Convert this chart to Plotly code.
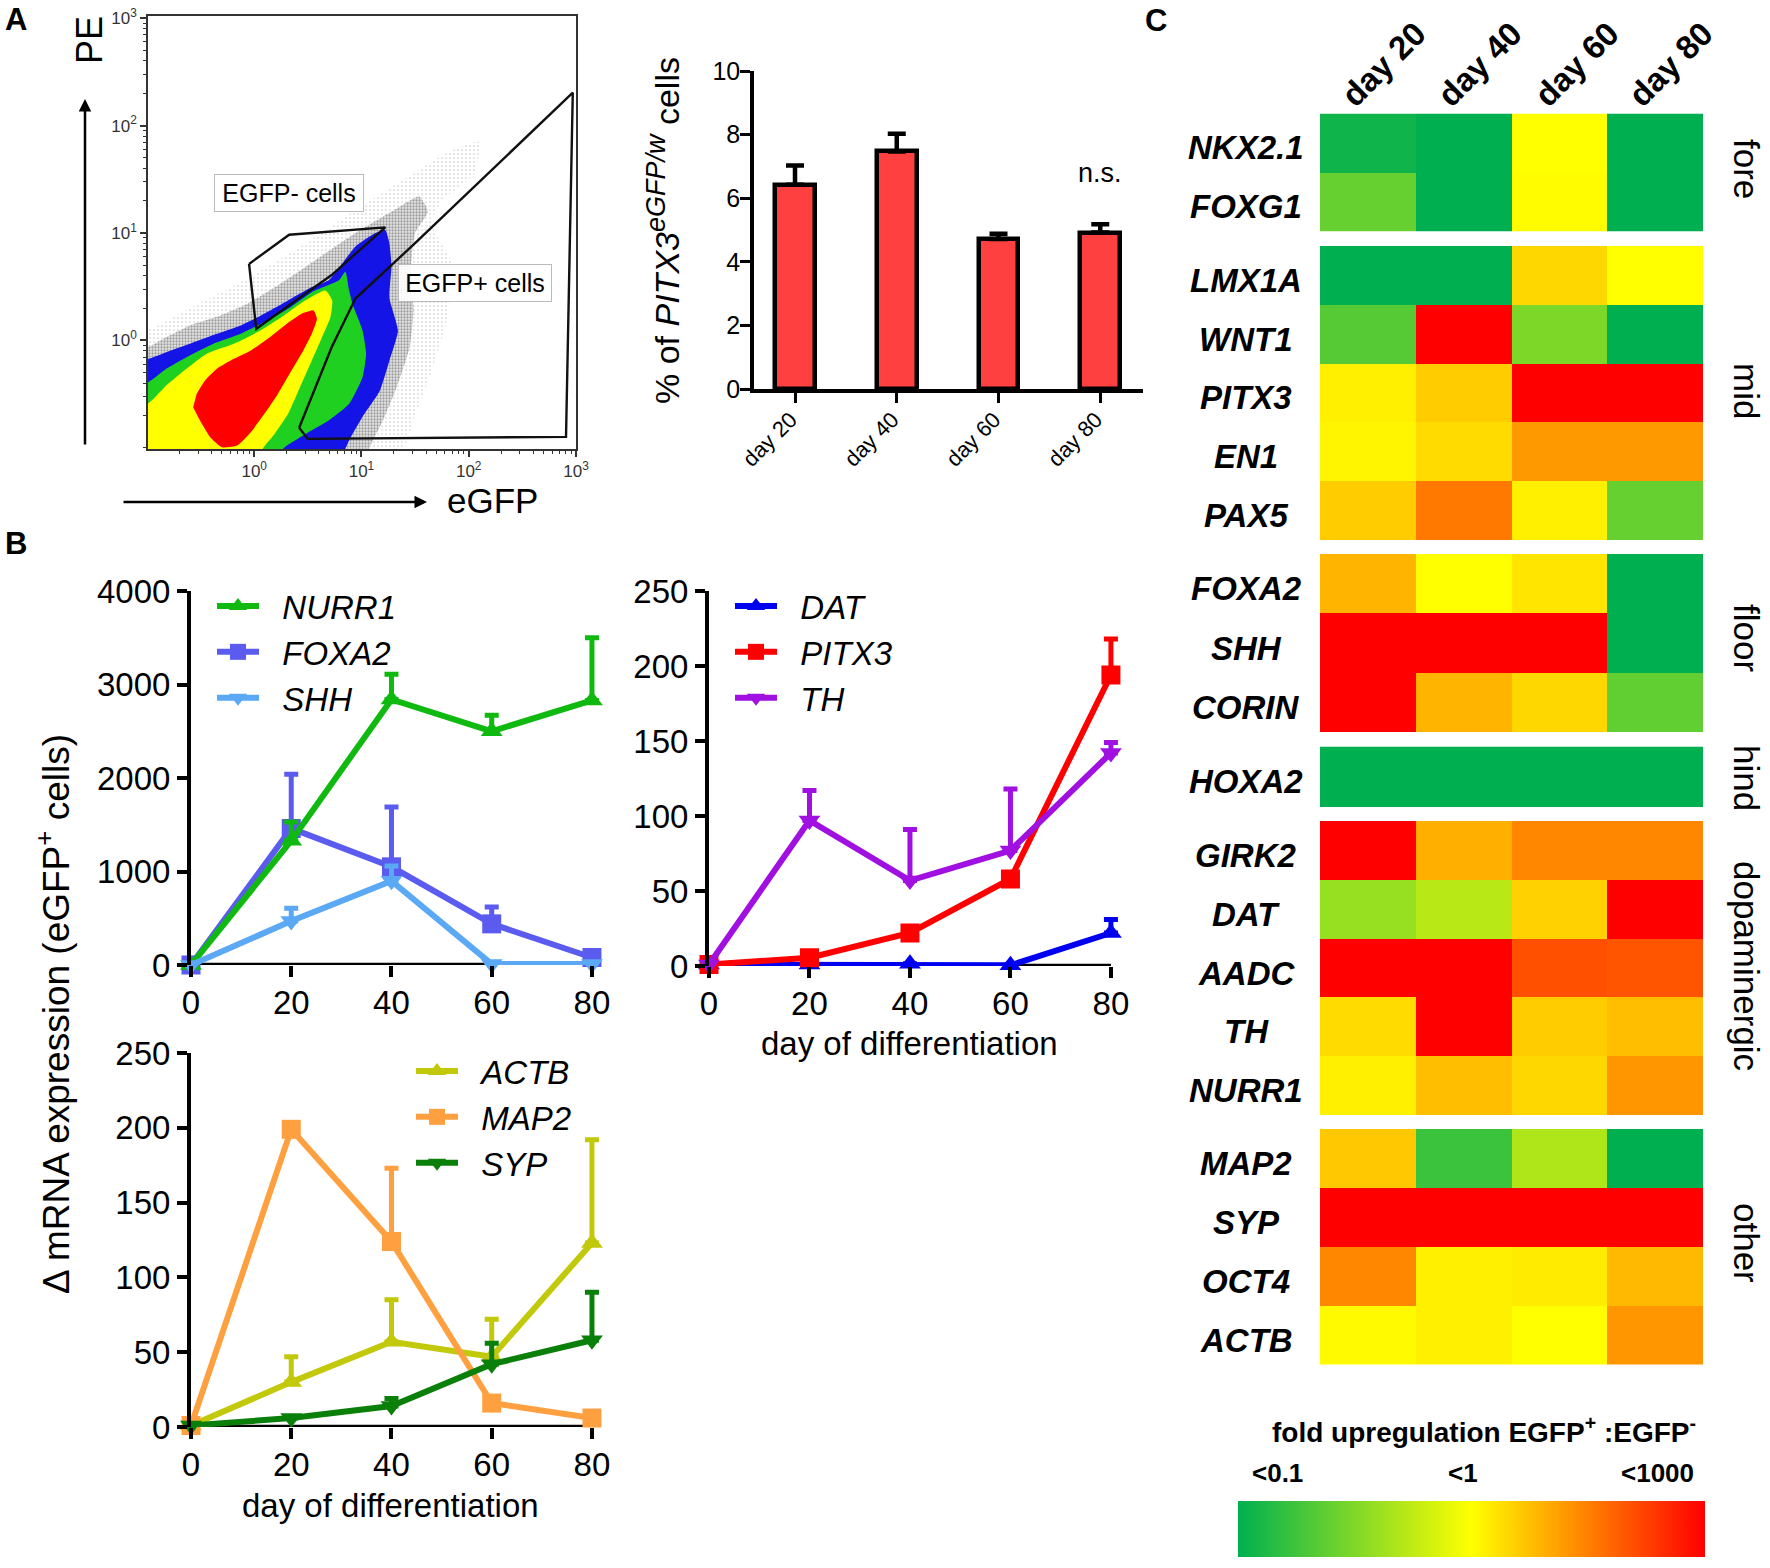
import plotly.graph_objects as go

W, H = 1770, 1568
FONT = "Liberation Sans"

# ---------- Panel A: flow cytometry density regions, read as (log10 eGFP, log10 PE)
FLOW_PALE = [(-1.3,.10),(-.99,.10),(-.6,.30),(-.2,.50),(.2,.73),(.6,.98),(1,1.25),(1.4,1.5),(1.8,1.75),(2.1,1.85),(2.05,1.55),(1.75,1.3),(1.65,1.1),(1.85,.7),(1.8,.2),(1.65,-.3),(1.5,-.7),(1.4,-1.01),(1.3,-1.3),(-1.3,-1.3)]
FLOW_GREY = [(-1.3,-.06),(-.99,-.06),(-.82,.03),(-.6,.14),(-.316,.233),(-.063,.342),(.2,.50),(.574,.75),(.944,1.0),(1.315,1.22),(1.537,1.34),(1.62,1.2),(1.5,1.0),(1.46,.66),(1.485,.28),(1.45,-.06),(1.33,-.43),(1.2,-.745),(1.07,-1.01),(1.0,-1.3),(-1.3,-1.3)]
FLOW_BLUE = [(-1.3,-.171),(-.99,-.171),(-.82,-.109),(-.6,-.031),(-.348,.062),(-.126,.14),(.063,.233),(.316,.373),(.537,.497),(.695,.56),(.944,.875),(1.13,1.0),(1.22,1.03),(1.26,.906),(1.28,.69),(1.26,.40),(1.34,.09),(1.26,-.19),(1.17,-.47),(1.01,-.71),(.885,-.93),(.85,-1.01),(.8,-1.3),(-1.3,-1.3)]
FLOW_GREEN = [(-1.3,-.388),(-.99,-.388),(-.82,-.264),(-.6,-.14),(-.38,-.031),(-.126,.062),(.063,.155),(.316,.295),(.537,.45),(.79,.56),(.85,.64),(.885,.466),(.916,.342),(1.01,.093),(1.043,-.124),(1.01,-.342),(.885,-.59),(.695,-.745),(.505,-.854),(.379,-.932),(.269,-1.01),(.2,-1.3),(-1.3,-1.3)]
FLOW_YELLOW = [(-1.3,-.59),(-.995,-.59),(-.82,-.42),(-.632,-.264),(-.442,-.124),(-.19,-.031),(.032,.078),(.253,.217),(.474,.373),(.664,.466),(.727,.373),(.711,.217),(.632,.031),(.537,-.186),(.427,-.435),(.316,-.683),(.19,-.87),(.079,-1.01),(0,-1.3),(-1.3,-1.3)]
FLOW_RED = [(-.537,-.497),(-.458,-.373),(-.348,-.264),(-.19,-.171),(-.03,-.093),(.126,.016),(.284,.14),(.442,.248),(.553,.28),(.585,.202),(.537,.062),(.458,-.093),(.348,-.28),(.221,-.497),(.095,-.683),(-.032,-.854),(-.158,-.978),(-.3,-.994),(-.41,-.9),(-.505,-.745),(-.569,-.621)]
GATE_NEG = [(-.048,.7125),(.326,.984),(1.222,1.053),(.722,.609),(.019,.109),(-.048,.7125)]
GATE_POS = [(.419,-.8125),(.5,-.916),(2.907,-.897),(2.97,2.306),(1.5,.906),(1.056,.5),(.944,.39),(.722,-.0625),(.419,-.8125)]
FLOW_TICKS = [1, 10, 100, 1000]
FLOW_TICKTEXT = ["10<sup>0</sup>", "10<sup>1</sup>", "10<sup>2</sup>", "10<sup>3</sup>"]

# ---------- Panel A: bars
BAR_DAYS = ["day 20", "day 40", "day 60", "day 80"]
BAR_VALUES = [6.42, 7.47, 4.72, 4.92]
BAR_UPPER = [7.03, 8.03, 4.88, 5.18]

# ---------- Panel B: time courses
DAYS = [0, 20, 40, 60, 80]
NURR1 = [0, 1330, 2840, 2500, 2830]
NURR1_UP = [0, 1530, 3110, 2670, 3500]
FOXA2 = [0, 1460, 1050, 440, 80]
FOXA2_UP = [0, 2040, 1690, 620, 100]
SHH = [0, 470, 900, 10, 10]
SHH_UP = [0, 606, 1060, 10, 10]
DAT = [1, 1, 1.5, 0.5, 22]
DAT_UP = [1, 1, 1.5, 0.5, 31]
PITX3 = [1, 5.5, 22, 58, 194]
PITX3_UP = [1, 5.5, 22, 58, 218]
TH = [1, 97, 57, 77, 142]
TH_UP = [1, 117, 91, 118, 149]
ACTB = [1, 30, 57, 47, 123]
ACTB_UP = [1, 47, 85, 72, 192]
MAP2 = [1, 199, 124, 16, 6]
MAP2_UP = [1, 199, 173, 16, 6]
SYP = [1, 6, 14, 42, 58]
SYP_UP = [1, 6, 19, 56, 90]

# ---------- Panel C: heat map (position on the colour bar, 0 = <0.1, 0.5 = <1, 1 = <1000)
HEAT_DAYS = ["day 20", "day 40", "day 60", "day 80"]
GROUPS = ["fore", "mid", "floor", "hind", "dopaminergic", "other"]
GENES_FORE = ["NKX2.1", "FOXG1"]
HEAT_FORE = [[.03, 0, .5, 0], [.2, 0, .505, 0]]
GENES_MID = ["LMX1A", "WNT1", "PITX3", "EN1", "PAX5"]
HEAT_MID = [[0, 0, .578, .5], [.167, 1, .245, 0], [.53, .6, 1, 1], [.52, .57, .70, .70], [.6, .765, .53, .2]]
GENES_FLOOR = ["FOXA2", "SHH", "CORIN"]
HEAT_FLOOR = [[.647, .5, .55, 0], [1, 1, 1, 0], [1, .647, .578, .19]]
GENES_HIND = ["HOXA2"]
HEAT_HIND = [[0, 0, 0, 0]]
GENES_DOPA = ["GIRK2", "DAT", "AADC", "TH", "NURR1"]
HEAT_DOPA = [[1, .657, .735, .735], [.295, .36, .59, 1], [1, 1, .843, .833], [.57, 1, .6, .627], [.53, .627, .578, .706]]
GENES_OTHER = ["MAP2", "SYP", "OCT4", "ACTB"]
HEAT_OTHER = [[.608, .118, .343, 0], [1, 1, 1, 1], [.735, .53, .54, .637], [.51, .53, .5, .706]]
SCALE_LABELS = ["<0.1", "<1", "<1000"]


def px(x):
    return x / W


def py(y):
    return 1 - y / H


def dom_x(a, b):
    return [a / W, b / W]


def dom_y(top, bottom):
    return [1 - bottom / H, 1 - top / H]


def lin(v):
    return [10 ** p for p in v]


fig = go.Figure()
annotations = []


def note(x, y, text, size, angle=0, color="black", **kw):
    annotations.append(dict(xref="paper", yref="paper", x=px(x), y=py(y), text=text, showarrow=False,
                            textangle=angle, xanchor="center", yanchor="middle",
                            font=dict(family=FONT, size=size, color=color), **kw))


# --- flow plot
for poly, col, pat in [
    (FLOW_PALE, "white", dict(shape=".", fgcolor="#9a9a9a", bgcolor="white", size=4, solidity=0.14)),
    (FLOW_GREY, "#b4b4b4", dict(shape=".", fgcolor="#555555", bgcolor="#e4e4e4", size=3, solidity=0.45)),
    (FLOW_BLUE, "#1414e6", None), (FLOW_GREEN, "#20d020", None),
    (FLOW_YELLOW, "#ffff00", None), (FLOW_RED, "#ff0000", None)]:
    fig.add_trace(go.Scatter(x=lin([p[0] for p in poly]), y=lin([p[1] for p in poly]), mode="lines",
                             fill="toself", fillcolor=col, fillpattern=pat,
                             line=dict(width=0, shape="spline", smoothing=0.5), showlegend=False,
                             hoverinfo="skip", xaxis="x", yaxis="y"))
for gate in (GATE_NEG, GATE_POS):
    fig.add_trace(go.Scatter(x=lin([p[0] for p in gate]), y=lin([p[1] for p in gate]), mode="lines",
                             line=dict(color="#111111", width=2.4), showlegend=False,
                             hoverinfo="skip", xaxis="x", yaxis="y"))

# --- bars
fig.add_trace(go.Bar(x=list(range(4)), y=BAR_VALUES, width=0.39,
                     marker=dict(color="#ff4040", line=dict(color="black", width=4.5)),
                     error_y=dict(type="data", symmetric=False,
                                  array=[u - v for u, v in zip(BAR_UPPER, BAR_VALUES)],
                                  arrayminus=[0, 0, 0, 0], color="black", thickness=4.5, width=9),
                     showlegend=False, xaxis="x2", yaxis="y2"))


# --- lines
def series(name, vals, up, col, sym, ax, legend, rank):
    fig.add_trace(go.Scatter(
        x=DAYS, y=vals, mode="lines+markers", name="\u00a0\u00a0<i>" + name + "</i>",
        line=dict(color=col, width=6), marker=dict(color=col, symbol=sym, size=19),
        error_y=dict(type="data", symmetric=False, array=[u - v for u, v in zip(up, vals)],
                     arrayminus=[0] * 5, color=col, thickness=5, width=7),
        cliponaxis=False, xaxis="x" + ax, yaxis="y" + ax, legend=legend, legendgroup=name, legendrank=rank))


def axis_line(ax):
    # the bottom axis line stops at day 80 and straddles zero, so it is a line on the panel's own scales
    fig.add_trace(go.Scatter(x=[DAYS[0], DAYS[-1]], y=[0, 0], mode="lines", line=dict(color="black", width=4.5),
                             cliponaxis=False, showlegend=False, hoverinfo="skip", xaxis="x" + ax, yaxis="y" + ax))


axis_line("3")
series("FOXA2", FOXA2, FOXA2_UP, "#5b5bef", "square", "3", "legend", 2)
series("NURR1", NURR1, NURR1_UP, "#10b910", "triangle-up", "3", "legend", 1)
series("SHH", SHH, SHH_UP, "#5ba8f5", "triangle-down", "3", "legend", 3)
axis_line("4")
series("DAT", DAT, DAT_UP, "#0000f0", "triangle-up", "4", "legend2", 1)
series("PITX3", PITX3, PITX3_UP, "#ff0000", "square", "4", "legend2", 2)
series("TH", TH, TH_UP, "#a010e0", "triangle-down", "4", "legend2", 3)
axis_line("5")
series("ACTB", ACTB, ACTB_UP, "#c2c80a", "triangle-up", "5", "legend3", 1)
series("MAP2", MAP2, MAP2_UP, "#ffa040", "square", "5", "legend3", 2)
series("SYP", SYP, SYP_UP, "#0a7f0a", "triangle-down", "5", "legend3", 3)

# --- heat map blocks
SCALE = [[0, "#00b050"], [0.5, "#ffff00"], [1, "#ff0000"]]
BLOCKS = [(GENES_FORE, HEAT_FORE, 113.5, 231.5, 169), (GENES_MID, HEAT_MID, 246, 540, 391),
          (GENES_FLOOR, HEAT_FLOOR, 554, 732, 638), (GENES_HIND, HEAT_HIND, 746.5, 807, 778),
          (GENES_DOPA, HEAT_DOPA, 821, 1115, 966), (GENES_OTHER, HEAT_OTHER, 1129, 1364.5, 1243)]
layout_axes = {}
for i, (genes, z, top, bottom, gy) in enumerate(BLOCKS):
    yname = "y" + str(6 + i)
    first = i == 0
    fig.add_trace(go.Heatmap(
        x=HEAT_DAYS, y=genes, z=z, zmin=0, zmax=1, colorscale=SCALE, showscale=first,
        xaxis="x6", yaxis=yname, hoverinfo="skip",
        colorbar=dict(orientation="h", xref="paper", yref="paper", x=px(1238), xanchor="left",
                      y=py(1557), yanchor="bottom", lenmode="pixels", len=467,
                      thicknessmode="pixels", thickness=56, outlinewidth=0, ticks="",
                      showticklabels=False, xpad=0, ypad=0) if first else None))
    layout_axes["yaxis" + str(6 + i)] = dict(domain=dom_y(top, bottom), anchor="x6", visible=False,
                                             autorange="reversed", type="category")
    for g in genes:
        annotations.append(dict(xref="paper", yref=yname, x=px(1246), y=g, showarrow=False, yshift=-5,
                                text="<b><i>" + g + "</i></b>", xanchor="center", yanchor="middle",
                                font=dict(family=FONT, size=33, color="black")))
    note(1747, gy, GROUPS[i], 35, angle=90)
for d, cx in zip(HEAT_DAYS, [1383, 1479, 1576, 1670]):
    note(cx, 64, "<b>" + d + "</b>", 33, angle=-45)
note(1484, 1430, "<b>fold upregulation EGFP<sup>+</sup> :EGFP<sup>-</sup></b>", 28)
for t, cx in zip(SCALE_LABELS, [1277, 1463, 1657]):
    note(cx, 1473, "<b>" + t.replace("<", "&lt;") + "</b>", 26)

# --- free text
note(16, 20, "<b>A</b>", 31)
note(16, 543, "<b>B</b>", 31)
note(1156, 21, "<b>C</b>", 31)
note(90, 40, "PE", 36, angle=-90)
note(493, 500, "eGFP", 35)
note(288.5, 193, "EGFP- cells", 25, bgcolor="white", bordercolor="#bbbbbb", borderwidth=1, width=146, height=34)
note(475.5, 283, "EGFP+ cells", 25, bgcolor="rgba(255,255,255,0.9)", bordercolor="#bbbbbb", borderwidth=1, width=150, height=34)
for (x0, y0, x1, y1) in [(85, 446, 85, 99), (122, 502, 427, 502)]:
    annotations.append(dict(xref="paper", yref="paper", axref="pixel", ayref="pixel", x=px(x1), y=py(y1),
                            ax=x0 - x1, ay=y0 - y1, text="", showarrow=True, arrowhead=2, arrowsize=1,
                            arrowwidth=2.5, arrowcolor="black"))
note(1100, 173, "n.s.", 27)
note(663, 231, "% of <i>PITX3</i><sup><span style=\"font-size:27px\"><i>eGFP/w</i></span></sup> cells", 34, angle=-90)
note(54, 1014, "\u0394 mRNA expression (eGFP<sup>+</sup> cells)", 37, angle=-90)
note(909, 1043, "day of differentiation", 33)
note(390.5, 1505, "day of differentiation", 33)


def flow_axis(dom, rng, anchor):
    return dict(domain=dom, type="log", range=rng, anchor=anchor, showgrid=False, zeroline=False,
                showline=True, mirror=True, linecolor="#333333", linewidth=1.5, ticks="outside",
                ticklen=6, tickwidth=1.5, tickcolor="#333333", tickmode="array", tickvals=FLOW_TICKS,
                ticktext=FLOW_TICKTEXT, tickfont=dict(family=FONT, size=17, color="#333333"),
                minor=dict(ticks="outside", ticklen=3, tickwidth=1, tickcolor="#333333", dtick="D1", showgrid=False))


def line_x(left, right, anchor):
    # the axis runs a little past day 80 so that the last error bars are not cut in half
    return dict(domain=dom_x(left, right + 15), range=[0, 83], anchor=anchor, showgrid=False, zeroline=False,
                showline=False, ticks="outside", ticklen=11, tickwidth=3.5, tickcolor="black",
                tickmode="array", tickvals=DAYS, ticklabelstandoff=-3,
                tickfont=dict(family=FONT, size=33, color="black"))


def line_y(dom, rng, ticks, anchor):
    return dict(domain=dom, range=rng, anchor=anchor, showgrid=False, zeroline=False, showline=True,
                linecolor="black", linewidth=4, ticks="outside", ticklen=10, tickwidth=3.5, tickcolor="black",
                tickmode="array", tickvals=ticks, tickfont=dict(family=FONT, size=33, color="black"))


def legend_at(x, y):
    return dict(x=px(x), y=py(y), xanchor="left", yanchor="top", bgcolor="rgba(0,0,0,0)", borderwidth=0,
                itemwidth=42, tracegroupgap=0, traceorder="normal", itemclick=False,
                font=dict(family=FONT, size=33, color="black"))


fig.update_layout(
    width=W, height=H, margin=dict(l=0, r=0, t=0, b=0, autoexpand=False), paper_bgcolor="white",
    plot_bgcolor="rgba(0,0,0,0)", font=dict(family=FONT, color="black"), annotations=annotations,
    hovermode=False, bargap=0,
    xaxis=flow_axis(dom_x(148, 576), [-0.99, 3.0], "y"),
    yaxis=flow_axis(dom_y(16, 449), [-1.01, 3.02], "x"),
    xaxis2=dict(domain=dom_x(754, 1143), range=[-0.403, 3.42], anchor="y2", showgrid=False, zeroline=False,
                showline=True, linecolor="black", linewidth=3.5, ticks="outside", ticklen=10, tickwidth=3,
                tickcolor="black", tickmode="array", tickvals=list(range(4)),
                ticktext=[d + "\u00a0" for d in BAR_DAYS], tickangle=-45, ticklabelstandoff=-9,
                tickfont=dict(family=FONT, size=22, color="black")),
    yaxis2=dict(domain=dom_y(71, 389), range=[0, 10], anchor="x2", showgrid=False, zeroline=False, showline=True,
                linecolor="black", linewidth=3.5, ticks="outside", ticklen=10, tickwidth=3, tickcolor="black",
                tickmode="array", tickvals=[0, 2, 4, 6, 8, 10], ticklabelstandoff=-5,
                tickfont=dict(family=FONT, size=25, color="black")),
    xaxis3=line_x(191, 592, "y3"),
    yaxis3=line_y(dom_y(591, 965), [0, 4000], [0, 1000, 2000, 3000, 4000], "x3"),
    xaxis4=line_x(709, 1111, "y4"),
    yaxis4=line_y(dom_y(591, 966), [0, 250], [0, 50, 100, 150, 200, 250], "x4"),
    xaxis5=line_x(191, 592, "y5"),
    yaxis5=line_y(dom_y(1053, 1427), [0, 250], [0, 50, 100, 150, 200, 250], "x5"),
    xaxis6=dict(domain=dom_x(1320, 1703), anchor="y6", visible=False, type="category"),
    legend=legend_at(212, 578),
    legend2=legend_at(730, 578),
    legend3=legend_at(411, 1043),
    **layout_axes,
)

fig.write_html("out.html", config={"displayModeBar": False}, post_script="document.body.style.margin='0';")
